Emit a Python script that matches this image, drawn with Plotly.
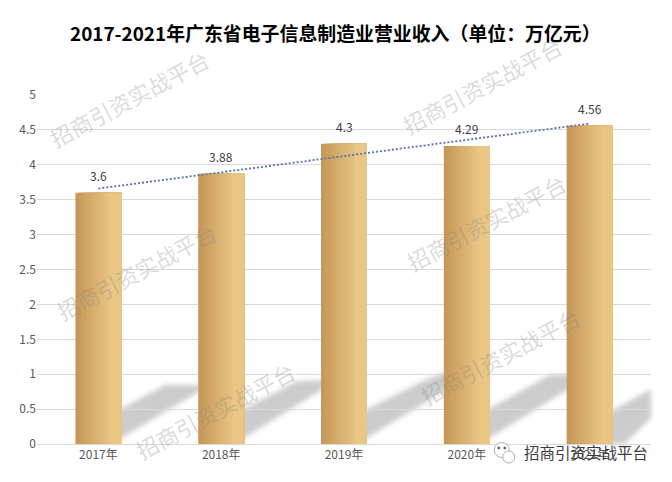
import plotly.graph_objects as go

W, H = 672, 482
LEFT, RIGHT, TOP, BOTTOM = 36.5, 651.5, 95, 444
FONT = "Noto Sans CJK SC"

years = ["2017年", "2018年", "2019年", "2020年", "2021年"]
bar_values = [3.6, 3.87, 4.3, 4.27, 4.56]
bar_labels = ["3.6", "3.88", "4.3", "4.29", "4.56"]
trend_values = [3.66, 3.89, 4.13, 4.36, 4.59]
y_ticks = [0, 0.5, 1, 1.5, 2, 2.5, 3, 3.5, 4, 4.5, 5]
y_tick_labels = ["0", "0.5", "1", "1.5", "2", "2.5", "3", "3.5", "4", "4.5", "5"]

title_text = "2017-2021年广东省电子信息制造业营业收入（单位：万亿元）"
watermark_text = "招商引资实战平台"


def px_x(x):
    return (x - LEFT) / (RIGHT - LEFT)


def px_y(y):
    return (BOTTOM - y) / (BOTTOM - TOP)


def poly_path(points):
    return "M " + " L ".join(f"{px_x(x):.4f},{px_y(y):.4f}" for x, y in points) + " Z"


fig = go.Figure()

# no gradient on plotly bars, so paint narrowing bars left to right
bar_w = 0.374
n_strips = 16
left_rgb = (198, 152, 88)
right_rgb = (233, 198, 132)
for i in range(n_strips):
    t = min(1, i / (n_strips * 0.75))
    rgb = [round(a + (b - a) * t) for a, b in zip(left_rgb, right_rgb)]
    fig.add_trace(go.Bar(
        x=years,
        y=bar_values,
        width=bar_w * (1 - i / n_strips),
        offset=-bar_w / 2 + bar_w * i / n_strips,
        marker=dict(color=f"rgb({rgb[0]},{rgb[1]},{rgb[2]})", line=dict(width=0)),
        showlegend=False,
        hoverinfo="skip",
    ))

fig.add_trace(go.Scatter(
    x=years,
    y=trend_values,
    mode="lines",
    line=dict(color="#4f76a0", width=1.8, dash="2px,2px"),
    showlegend=False,
    hoverinfo="skip",
))

# grey smeared shadows, they run on under the bars so the blur edge stays hidden
shadows = [
    [(111, 444), (111, 414), (165, 385), (208, 385), (208, 386)],
    [(234, 444), (234, 414), (297, 381), (331, 380), (331, 384)],
    [(357, 444), (357, 414), (425, 380), (454, 369), (454, 385)],
    [(480, 444), (480, 414), (550, 375), (577, 374), (577, 384)],
    [(603, 444), (603, 416), (651.5, 389), (651.5, 418), (625, 444)],
]
shapes = []
for pts in shadows:
    shapes.append(dict(
        type="path", xref="paper", yref="paper", layer="below",
        path=poly_path(pts),
        fillcolor="rgba(120,120,120,0.38)",
        line=dict(width=0),
    ))

# wechat logo bubbles
for cx, cy, r, fill, color in [
    (502, 450, 7.5, "white", "#9a9a9a"),
    (509, 457, 6, "white", "#9a9a9a"),
    (499, 448, 1, "#555555", "#555555"),
    (505, 448, 1, "#555555", "#555555"),
]:
    shapes.append(dict(
        type="circle", xref="paper", yref="paper", layer="above",
        x0=px_x(cx - r), x1=px_x(cx + r), y0=px_y(cy + r), y1=px_y(cy - r),
        fillcolor=fill, line=dict(color=color, width=0.8),
    ))

annotations = [dict(
    text=f"<b>{title_text}</b>",
    xref="paper", yref="paper", x=px_x(335), y=px_y(33),
    xanchor="center", yanchor="middle",
    showarrow=False, font=dict(family=FONT, size=18.9, color="#000000"),
)]

for year, value, label in zip(years, bar_values, bar_labels):
    annotations.append(dict(
        text=label, x=year, y=value, xref="x", yref="y",
        xanchor="center", yanchor="bottom", yshift=7,
        showarrow=False, font=dict(family=FONT, size=12, color="#404040"),
    ))

# centre of each diagonal watermark
wm_x = [129, 482, 486, 136, 215, 500]
wm_y = [98, 85, 222, 271, 410, 356]
for x, y in zip(wm_x, wm_y):
    annotations.append(dict(
        text=watermark_text,
        xref="paper", yref="paper", x=px_x(x), y=px_y(y),
        xanchor="center", yanchor="middle",
        textangle=-28, showarrow=False,
        font=dict(family=FONT, size=22, color="rgba(130,130,130,0.3)"),
    ))

annotations.append(dict(
    text=watermark_text,
    xref="paper", yref="paper", x=px_x(586), y=px_y(452),
    xanchor="center", yanchor="middle",
    showarrow=False, font=dict(family=FONT, size=15.5, color="#3c3c3c"),
))

fig.update_layout(
    width=W,
    height=H,
    margin=dict(l=LEFT, r=W - RIGHT, t=TOP, b=H - BOTTOM, pad=0),
    barmode="overlay",
    plot_bgcolor="white",
    paper_bgcolor="white",
    shapes=shapes,
    annotations=annotations,
    font=dict(family=FONT),
)
fig.update_xaxes(
    type="category",
    showgrid=False,
    showline=True,
    linecolor="#d9d9d9",
    linewidth=1,
    ticks="",
    tickfont=dict(family=FONT, size=12, color="#595959"),
)
fig.update_yaxes(
    range=[0, 5],
    tickvals=y_ticks,
    ticktext=y_tick_labels,
    showgrid=True,
    gridcolor="#d9d9d9",
    gridwidth=1,
    zeroline=False,
    ticks="",
    tickfont=dict(family=FONT, size=12, color="#595959"),
)

blur_js = """
document.body.style.margin = '0';
document.querySelectorAll('.layer-below .shapelayer path').forEach(function (p) {
    p.style.filter = 'blur(2.5px)';
});
"""
fig.write_html("out.html", post_script=blur_js, config={"displayModeBar": False})
